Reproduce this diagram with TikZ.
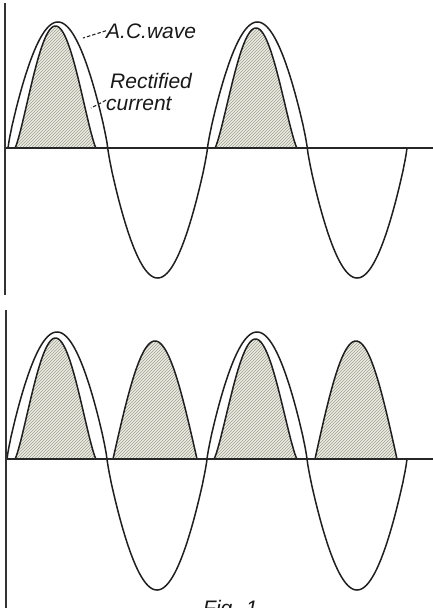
\documentclass[tikz,border=0pt]{standalone}
\usepackage{fontspec}
\setmainfont{Liberation Sans}
\tikzset{
  curve/.style={line width=1.5pt, black!88},
  axisline/.style={line width=1.3pt, black!85},
  vaxis/.style={line width=1.8pt, black!80},
  hatch/.style={line width=0.5pt, black!38},
  humpfill/.style={fill={rgb,255:red,236;green,237;blue,222}},
  leader/.style={line width=1.1pt, black!85, dash pattern=on 3.5pt off 2pt},
  lbl/.style={inner sep=0pt, font=\fontsize{21}{22}\selectfont\itshape, text=black!90}
}
% \hump{a}{b}{axis}{height}{power}
\newcommand\hump[5]{%
  \begin{scope}
    \clip plot[domain=#1:#2,samples=80] (\x,{#3-#4*abs(sin((\x-#1)/(#2-#1)*180))^#5}) -- cycle;
    \fill[humpfill] (#1,#3) rectangle (#2,#3-#4-3);
    \foreach \k in {-135,-132,...,95} \draw[hatch] ({#1+\k},#3+1) -- ++(140,-140);
  \end{scope}
  \draw[curve] plot[domain=#1:#2,samples=80] (\x,{#3-#4*abs(sin((\x-#1)/(#2-#1)*180))^#5});
}
\begin{document}
\begin{tikzpicture}[x=1pt,y=-1pt]
\useasboundingbox (0,0) rectangle (433,608);
\clip (0,0) rectangle (433,608);
\fill[white] (0,0) rectangle (433,608);

% ---------- top panel ----------
\hump{15}{96}{148}{122}{1.25}
\hump{215}{297}{148}{120}{1.25}
\draw[curve] plot[domain=8:407,samples=400]
  (\x,{148-((sin((\x-8)*1.80451)>0) ? 126 : -130)*abs(sin((\x-8)*1.80451))^0.85});
\draw[axisline] (5,148) -- (433,148);
\draw[vaxis] (5,3) -- (5,295);

\node[lbl, anchor=base west] (acw) at (106,38) {A.C.wave};
\coordinate (acp) at (83,38);
\draw[leader] (acw.west) -- (acp);
\node[lbl, anchor=base west] (rect) at (110,88) {Rectified};
\node[lbl, anchor=base west] (curr) at (106,110) {current};
\coordinate (rcp) at (91,108);
\draw[leader] (curr.north west) ++(0,4) -- (rcp);

% ---------- bottom panel ----------
\hump{15}{96}{459}{121}{1.25}
\hump{113}{197}{459}{118}{1.0}
\hump{214}{297}{459}{120}{1.25}
\hump{315}{397}{459}{118}{1.0}
\draw[curve] plot[domain=7:407,samples=400]
  (\x,{459-((sin((\x-7)*1.8)>0) ? 127 : -131)*abs(sin((\x-7)*1.8))^0.85});
\draw[axisline] (6,459) -- (433,459);
\draw[vaxis] (6,310) -- (6,608);

\node[lbl, anchor=north west] (fig) at (203,600) {Fig. 1};
\end{tikzpicture}
\end{document}
